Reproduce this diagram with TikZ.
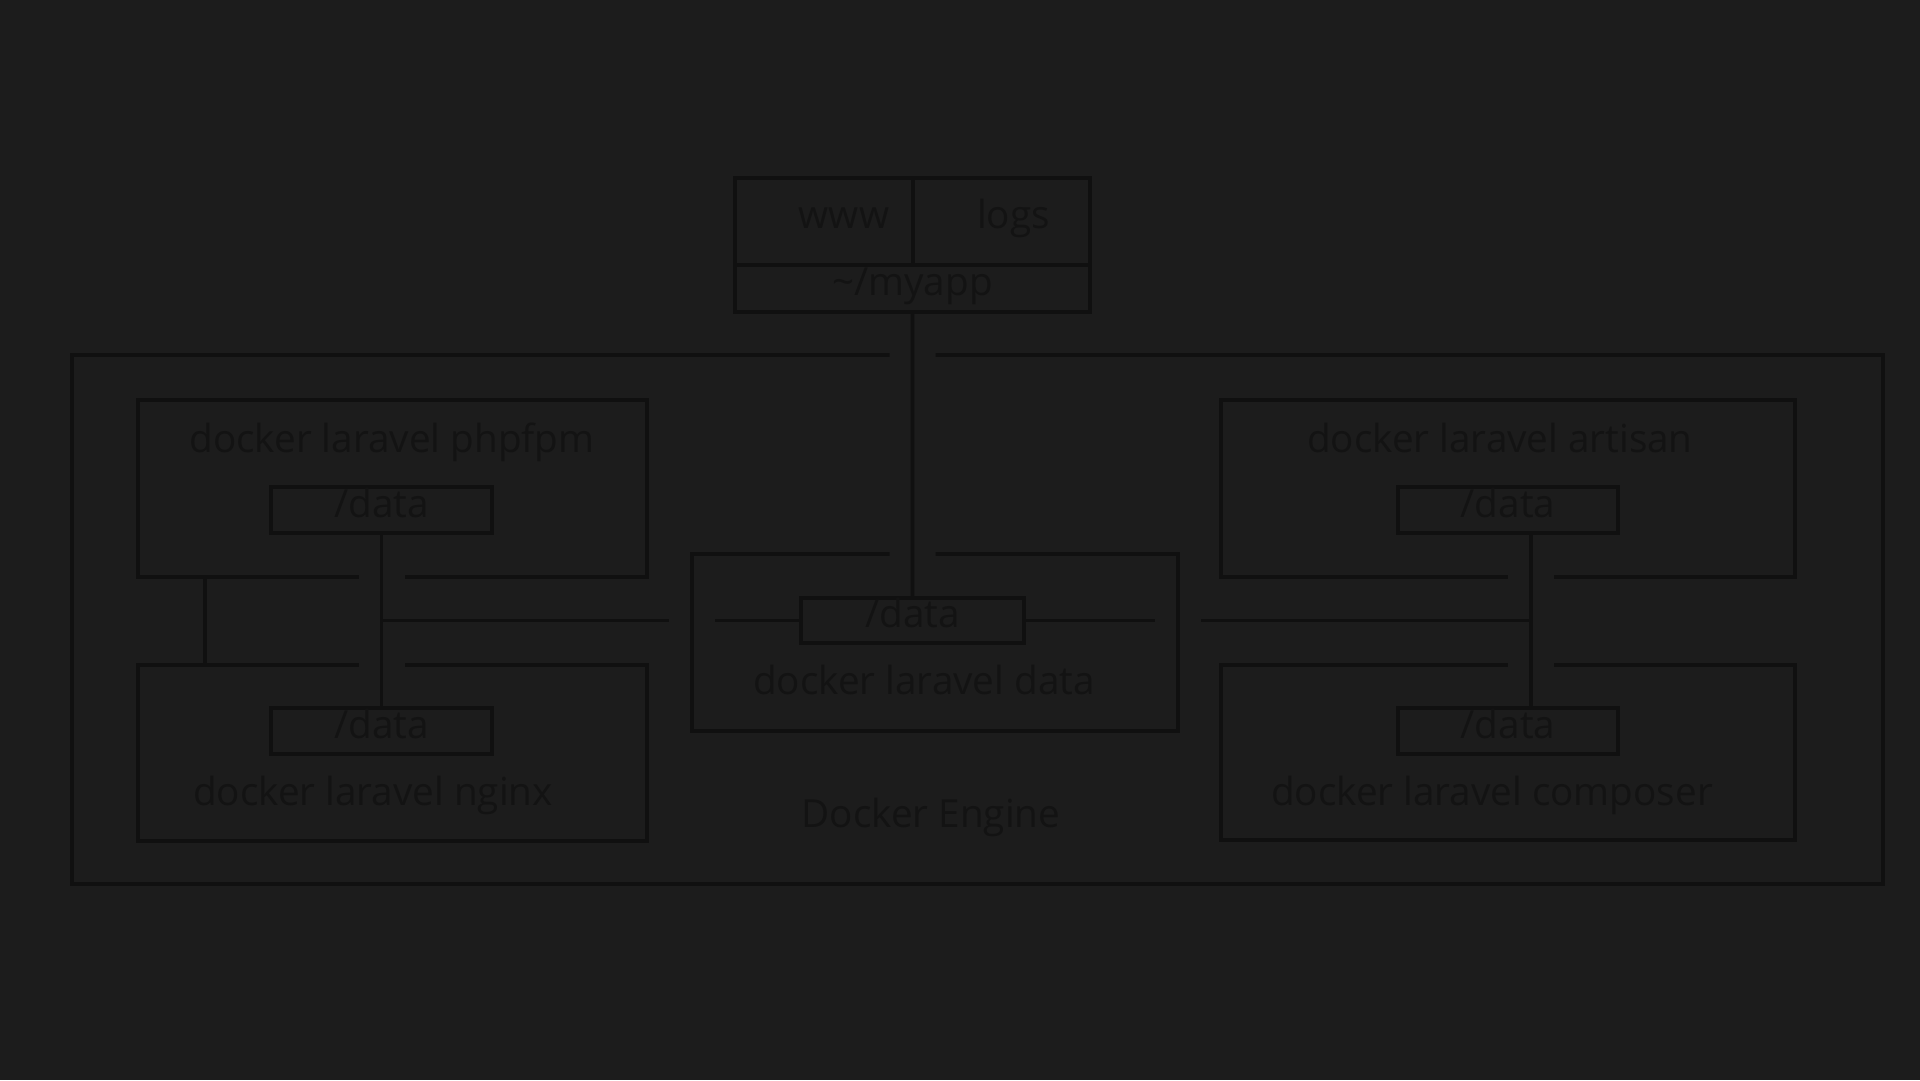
\documentclass[tikz,border=0pt]{standalone}
\usepackage{fontspec}
\setmainfont{Open Sans}
\usepackage{tikz}
\definecolor{boardbg}{RGB}{28, 28, 28}
\definecolor{ink}{RGB}{16, 16, 16}
\definecolor{inktext}{RGB}{19, 19, 19}

\begin{document}
\begin{tikzpicture}[
    x=0.1mm, y=-0.1mm,
    box/.style={rectangle, draw=ink, line width=1pt, inner sep=0pt, outer sep=0pt,
                anchor=north west},
    vol/.style={box, text=inktext, font=\fontsize{11}{13}\selectfont,
                text height=2.9mm, text depth=1.5mm},
    lbl/.style={anchor=base, text=inktext, font=\fontsize{11}{13}\selectfont, inner sep=0pt},
    halo/.style={preaction={draw=boardbg, line width=4.6mm}},
    link/.style={draw=ink, line width=1pt},
    cut/.style={link, preaction={draw=boardbg, line width=4.6mm,
                shorten <=1.5pt, shorten >=1.5pt}}
]
\useasboundingbox[fill=boardbg] (0,0) rectangle (1920,1080);

% Host folder
\node[vol, minimum width=17.8mm, minimum height=8.7mm] (www) at (735,178) {\hspace*{4mm}www};
\node[vol, minimum width=17.7mm, minimum height=8.7mm] (logs) at (913,178) {\hspace*{2.4mm}logs};
\node[vol, minimum width=35.5mm, minimum height=4.7mm] (myapp) at (735,265) {\textasciitilde/myapp};

% Docker engine
\node[box, minimum width=181.1mm, minimum height=52.9mm] (engine) at (72,355) {};

% Containers
\node[box, minimum width=50.9mm, minimum height=17.7mm] (phpfpm) at (138,400) {};
\node[box, minimum width=50.9mm, minimum height=17.6mm] (nginx) at (138,665) {};
\node[box, minimum width=57.4mm, minimum height=17.7mm] (artisan) at (1221,400) {};
\node[box, minimum width=57.4mm, minimum height=17.5mm] (composer) at (1221,665) {};

% Volumes
\node[vol, minimum width=22.1mm, minimum height=4.6mm] (pdata) at (271,487) {/data};
\node[vol, minimum width=22.1mm, minimum height=4.6mm] (ndata) at (271,708) {/data};
\node[vol, minimum width=22.3mm, minimum height=4.5mm] (ddata) at (801,598) {/data};
\node[vol, minimum width=22.0mm, minimum height=4.6mm] (adata) at (1398,487) {/data};
\node[vol, minimum width=22.0mm, minimum height=4.6mm] (cdata) at (1398,708) {/data};

\coordinate (stub) at (205,620);
\coordinate (ajoin) at (1531,620);

% Links
\draw[link] (phpfpm.south -| stub) -- (nginx.north -| stub);
\draw[cut] (pdata.south) -- (ndata.north);
\draw[cut] (adata.south -| ajoin) -- (cdata.north -| ajoin);
\draw[link] (pdata.south |- ddata.west) -- (ddata.west);
\draw[link] (ddata.east) -- (ddata.east -| ajoin);

% Data container
\node[box, halo, minimum width=48.6mm, minimum height=17.7mm] (datac) at (692,554) {};
\draw[cut] (myapp.south) -- (ddata.north);

% Labels
\node[lbl] (phpfpmlbl) at (392,452) {docker laravel phpfpm};
\node[lbl] (nginxlbl) at (373,805) {docker laravel nginx};
\node[lbl] (datalbl) at (924,694) {docker laravel data};
\node[lbl] (artisanlbl) at (1500,452) {docker laravel artisan};
\node[lbl] (composerlbl) at (1492,805) {docker laravel composer};
\node[lbl] (enginelbl) at (931,827) {Docker Engine};

\end{tikzpicture}
\end{document}
